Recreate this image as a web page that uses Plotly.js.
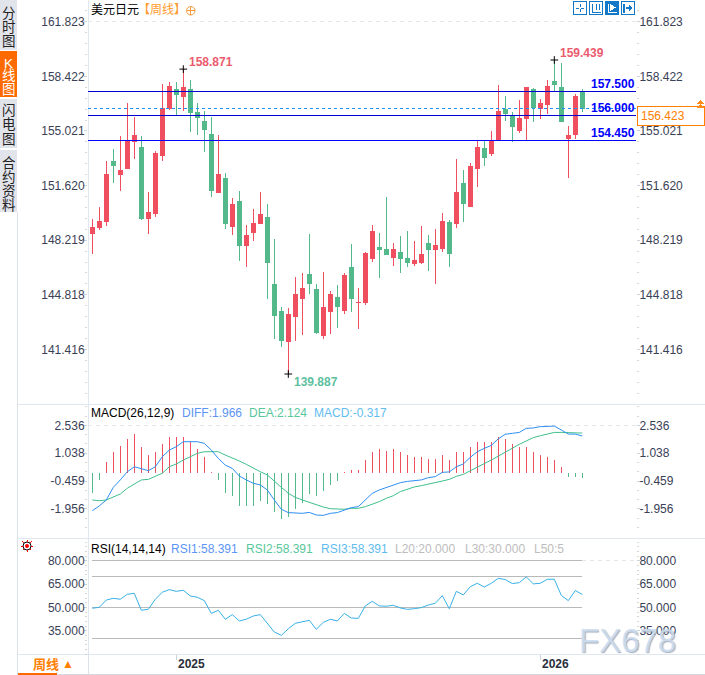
<!DOCTYPE html>
<html><head><meta charset="utf-8">
<script src="https://cdn.plot.ly/plotly-3.0.1.min.js"></script>
<style>html,body{margin:0;padding:0;background:#fff}#c{width:705px;height:675px}.boxlayer path{shape-rendering:crispEdges}</style></head>
<body><div id="c"></div>
<script>
// Weekly USD/JPY, values
const open  = [148.62,149.00,149.37,153.09,152.28,152.71,154.35,154.02,149.54,149.91,153.52,156.39,157.63,157.14,157.63,156.20,155.64,154.77,151.22,152.09,149.10,150.60,147.86,148.67,149.23,149.66,145.43,143.81,141.94,143.44,144.56,146.11,145.18,142.31,143.81,144.68,143.87,146.55,144.31,144.37,147.05,147.79,147.61,147.17,147.48,147.05,146.74,146.86,148.04,147.67,147.73,149.35,149.29,151.78,150.29,152.71,153.90,153.59,154.46,156.33,155.95,155.08,155.77,157.63,156.45,156.64,158.07,157.70,154.58,154.77,157.45];
const high  = [149.54,150.29,153.15,153.90,154.71,156.76,155.89,154.71,151.22,153.77,157.94,158.07,158.07,158.871,158.19,156.76,156.26,155.89,154.77,152.40,150.85,151.28,149.16,150.16,151.22,150.47,148.29,144.06,144.00,145.93,146.18,148.60,145.49,146.24,145.05,145.43,146.18,147.98,145.24,147.48,149.16,148.67,150.91,148.04,148.48,148.79,148.17,149.10,148.54,148.92,149.91,149.48,153.27,152.59,153.03,154.46,154.46,155.02,157.88,157.20,156.20,156.95,157.76,157.70,157.01,158.19,159.439,159.25,155.33,157.32,157.63];
const low   = [147.38,148.85,149.12,151.78,151.28,152.65,153.27,149.48,148.60,149.66,153.15,156.33,155.95,156.26,154.96,154.77,153.71,150.91,151.16,148.92,148.54,146.92,146.55,148.17,149.23,144.56,142.07,141.57,139.887,141.94,142.31,144.87,142.38,142.07,142.38,142.75,143.62,143.75,142.69,144.18,146.86,145.86,147.30,146.61,146.18,146.55,146.61,146.74,146.30,145.49,147.48,146.55,148.98,149.35,150.29,151.53,152.84,153.46,154.46,155.64,154.33,154.89,154.46,155.58,155.77,156.08,157.51,155.58,152.09,154.52,156.20];
const close = [149.04,149.41,152.28,152.90,152.53,154.40,154.71,149.60,149.97,153.59,156.39,157.82,157.26,157.70,156.20,155.89,155.14,151.34,152.28,149.23,150.47,147.92,148.54,149.23,149.79,146.80,143.50,142.00,143.62,144.81,145.24,145.55,142.50,144.00,144.81,144.06,146.05,144.62,144.37,147.36,148.73,147.61,147.30,147.67,147.11,146.86,146.98,147.30,147.61,147.92,149.41,147.36,151.22,150.53,152.78,154.02,153.34,154.40,156.26,156.08,155.27,155.77,157.70,156.51,156.76,157.82,157.94,155.58,154.71,157.14,156.423];
const macdHist = [-1.13,-0.38,0.54,1.13,1.45,1.83,2.05,1.40,0.97,1.13,1.56,1.92,1.94,1.94,1.62,1.24,0.86,0.05,-0.43,-1.08,-1.29,-1.78,-1.83,-1.78,-1.51,-1.67,-2.15,-2.48,-2.42,-1.99,-1.62,-1.18,-1.24,-1.02,-0.65,-0.48,0.02,0.11,0.16,0.65,1.13,1.24,1.18,1.24,1.13,0.97,0.86,0.81,0.75,0.75,0.92,0.70,1.08,1.13,1.40,1.67,1.62,1.67,1.89,1.78,1.51,1.35,1.35,1.13,0.92,0.81,0.70,0.27,-0.25,-0.25,-0.317];
const diff = [-2.06,-1.80,-1.48,-0.80,-0.40,0.04,0.31,0.19,0.10,0.31,0.85,1.21,1.39,1.66,1.66,1.66,1.57,1.21,0.76,0.40,0.22,-0.19,-0.40,-0.58,-0.67,-0.94,-1.48,-1.98,-2.16,-2.20,-2.20,-2.15,-2.29,-2.31,-2.20,-2.16,-2.02,-1.89,-1.84,-1.48,-1.12,-0.94,-0.80,-0.66,-0.55,-0.48,-0.42,-0.40,-0.28,-0.22,0.01,0.03,0.31,0.46,0.82,1.12,1.30,1.46,1.82,2.06,2.11,2.16,2.38,2.40,2.47,2.50,2.50,2.29,2.07,2.07,1.966];
const dea = [-1.48,-1.52,-1.48,-1.34,-1.16,-0.85,-0.62,-0.40,-0.37,-0.22,-0.04,0.31,0.46,0.67,0.85,1.03,1.12,1.14,1.12,0.94,0.80,0.62,0.44,0.22,0.04,-0.13,-0.49,-0.80,-1.12,-1.34,-1.48,-1.62,-1.75,-1.86,-1.95,-1.98,-1.98,-1.93,-1.93,-1.84,-1.71,-1.57,-1.39,-1.25,-1.03,-0.91,-0.78,-0.71,-0.64,-0.55,-0.46,-0.37,-0.21,-0.10,0.08,0.26,0.48,0.67,0.89,1.12,1.34,1.52,1.70,1.88,1.98,2.07,2.16,2.16,2.15,2.11,2.124];
const rsi = [49.5,50.1,54.8,55.9,55.3,58.5,59.1,48.2,48.8,55.3,59.8,61.5,60.4,61.1,57.4,56.6,54.4,46.2,48.2,42.4,45.4,41.3,42.4,44.5,45.4,39.4,34.2,32.0,36.3,39.8,40.6,41.7,35.9,40.4,42.4,41.3,46.2,43.2,43.0,51.0,54.0,51.0,50.8,51.4,49.7,48.8,49.2,49.9,51.6,52.7,57.6,49.2,60.4,58.1,63.4,65.6,63.2,65.6,68.8,68.0,65.4,66.0,69.7,65.2,65.6,68.2,68.2,57.8,54.4,60.9,58.391];
const priceTicks = [161.823,158.422,155.021,151.620,148.219,144.818,141.416];
const macdTicks  = [2.536,1.038,-0.459,-1.956];
const rsiTicks   = [80,65,50,35];
const rsiLevels  = [80,70,50,30,20];
const hLines     = [157.5,156.0,154.45];
const lastPrice  = 156.423;
const yearTicks  = [12,64];
const yearLabels = ['2025','2026'];
const peaks = [[13,158.871,'#EB5B6E'],[28,139.887,'#5DBFA0'],[66,159.439,'#EB5B6E']];
const idx = open.map((_,i)=>i);

const RED='#EF4F5F', GREEN='#53B88A', TXT='#3A4156', GRID='#E1E7EE';
const FONT='"Liberation Sans","Noto Sans CJK SC",sans-serif';
const px=x=>x/705, py=y=>1-y/675;
const dom=(t,b)=>[py(b),py(t)];

const baseY=(tv,minorD,minor0,extra)=>Object.assign({
  tickmode:'array',tickvals:tv,ticktext:tv.map(v=>v.toFixed(3)),
  tickfont:{family:FONT,size:12,color:TXT},showgrid:false,zeroline:false,
  ticks:'outside',ticklen:3,tickcolor:'#C9D3DE',tickwidth:1,ticklabelstandoff:-3,
  minor:{ticks:'outside',ticklen:2,tickcolor:'#D6D6D6',tickwidth:1,tickmode:'linear',tick0:minor0,dtick:minorD,showgrid:false},
  fixedrange:true},extra);

const traces=[
 {type:'candlestick',x:idx,open:open,high:high,low:low,close:close,xaxis:'x',yaxis:'y',
  increasing:{line:{color:RED,width:1},fillcolor:RED},decreasing:{line:{color:GREEN,width:1},fillcolor:GREEN},
  whiskerwidth:0,hoverinfo:'skip',showlegend:false},
 {type:'scatter',mode:'markers',x:peaks.map(p=>p[0]),y:peaks.map(p=>p[1]),xaxis:'x',yaxis:'y',
  marker:{symbol:'cross-thin',size:5.5,line:{color:'#000',width:1}},hoverinfo:'skip',showlegend:false},
 {type:'bar',x:idx,y:macdHist,xaxis:'x',yaxis:'y2',width:0.15,marker:{color:macdHist.map(v=>v>=0?RED:GREEN),line:{width:0}},hoverinfo:'skip',showlegend:false},
 {type:'scatter',mode:'lines',x:idx,y:dea,xaxis:'x',yaxis:'y2',line:{color:'#3FBF8C',width:1},hoverinfo:'skip',showlegend:false},
 {type:'scatter',mode:'lines',x:idx,y:diff,xaxis:'x',yaxis:'y2',line:{color:'#2E8FF2',width:1},hoverinfo:'skip',showlegend:false},
 {type:'scatter',mode:'lines',x:idx,y:rsi,xaxis:'x',yaxis:'y3',line:{color:'#38B0E6',width:1},hoverinfo:'skip',showlegend:false},
 // carriers for the right-hand axes
 {type:'scatter',mode:'markers',x:[0],y:[priceTicks[0]],xaxis:'x',yaxis:'y4',opacity:0,hoverinfo:'skip',showlegend:false},
 {type:'scatter',mode:'markers',x:[0],y:[macdTicks[0]],xaxis:'x',yaxis:'y5',opacity:0,hoverinfo:'skip',showlegend:false},
 {type:'scatter',mode:'markers',x:[0],y:[rsiTicks[0]],xaxis:'x',yaxis:'y6',opacity:0,hoverinfo:'skip',showlegend:false}
];

const shapes=[];
const rect=(x0,y0,x1,y1,fill,line,w,layer)=>shapes.push({type:'rect',xref:'paper',yref:'paper',x0:px(x0),x1:px(x1),y0:py(y0),y1:py(y1),fillcolor:fill||'rgba(0,0,0,0)',line:{color:line||'rgba(0,0,0,0)',width:w===undefined?(line?1:0):w},layer:layer||'below'});
const seg=(x0,y0,x1,y1,c,w,dash,layer)=>shapes.push({type:'line',xref:'paper',yref:'paper',x0:px(x0),x1:px(x1),y0:py(y0),y1:py(y1),line:{color:c,width:w||1,dash:dash||'solid'},layer:layer||'below'});

// side tabs
rect(0,0,17,50,'#E2E4EC'); rect(0,51,17,97,'#FF6A00'); rect(0,99,17,148,'#E2E4EC'); rect(0,150,17,212,'#E2E4EC');
seg(17.5,212,17.5,675,'#DDE1E8');
// panel frame
seg(88.5,0,88.5,654,GRID);
seg(18,404.5,705,404.5,GRID); seg(18,538.5,705,538.5,GRID); seg(18,654.5,705,654.5,GRID); seg(18,674.5,705,674.5,'#D5D9E0');
seg(88.5,654,88.5,674,'#DDE1E8');
seg(18,674,57,674,'#FF6A00',2);
// horizontal price levels
hLines.forEach((v,i)=>shapes.push({type:'line',xref:'paper',yref:'y',x0:px(88),x1:px(636),y0:v,y1:v,line:{color:i==2?'#0000FF':'#0000D0',width:1},layer:'above'}));
shapes.push({type:'line',xref:'paper',yref:'y',x0:px(88),x1:px(636),y0:lastPrice,y1:lastPrice,line:{color:'#1E90FF',width:1,dash:'3px,3px'},layer:'above'});
shapes.push({type:'line',xref:'paper',yref:'y',x0:px(88),x1:px(636),y0:priceTicks[0],y1:priceTicks[0],line:{color:'#E6E6E6',width:1,dash:'4px,4px'},layer:'below'});
shapes.push({type:'line',xref:'paper',yref:'y2',x0:px(88),x1:px(636),y0:macdTicks[0],y1:macdTicks[0],line:{color:'#E6E6E6',width:1,dash:'4px,4px'},layer:'below'});
shapes.push({type:'line',xref:'paper',yref:'y3',x0:px(582),x1:px(636),y0:rsiLevels[0],y1:rsiLevels[0],line:{color:'#E6E6E6',width:1,dash:'4px,4px'},layer:'below'});
rsiLevels.forEach(v=>shapes.push({type:'line',xref:'paper',yref:'y3',x0:px(92),x1:px(582),y0:v,y1:v,line:{color:'#B9B9B9',width:1},layer:'below'}));
// last-price box and marker
rect(637.5,106.5,704.5,125.5,'#FFFFFF','#FF8000',1,'above');
const tri=(x,y,w,h,c)=>shapes.push({type:'path',xref:'paper',yref:'paper',path:`M ${px(x-w/2)} ${py(y+h)} L ${px(x)} ${py(y)} L ${px(x+w/2)} ${py(y+h)} Z`,fillcolor:c,line:{width:0},layer:'above'});
tri(700,100,8,4,'#FF8C1A'); tri(700,104,8,4,'#FF8C1A');
// header toolbar
const B='#1478C8';
rect(573.5,1.5,586.5,14.5,'#FFF',B,1); seg(580,4,580,7,B,1,'solid','above'); seg(580,9,580,12,B,1,'solid','above'); seg(576,8,579,8,B,1,'solid','above'); seg(581,8,584,8,B,1,'solid','above');
rect(589.5,1.5,602.5,14.5,'#FFF',B,1); seg(592,3.5,592,12,B,1,'solid','above'); seg(592,12,601,12,B,1,'solid','above'); seg(596,4,596,10,B,1,'solid','above'); seg(599,4,599,10,B,1,'solid','above');
rect(605.5,1.5,618.5,14.5,B,B,1); seg(608,3.5,608,12,'#FFF',1,'solid','above'); seg(608,12,617,12,'#FFF',1,'solid','above'); tri(612.5,4,0.1,0.1,'#FFF');
shapes.push({type:'path',xref:'paper',yref:'paper',path:`M ${px(610)} ${py(4)} L ${px(616)} ${py(7.5)} L ${px(610)} ${py(11)} Z`,fillcolor:'#FFF',line:{width:0},layer:'above'});
rect(621.5,1.5,634.5,14.5,'#FFF',B,1); seg(624,3.5,624,12.5,B,2,'solid','above'); seg(626,8,630,8,B,2,'solid','above');
shapes.push({type:'path',xref:'paper',yref:'paper',path:`M ${px(629)} ${py(4.5)} L ${px(633)} ${py(8)} L ${px(629)} ${py(11.5)} Z`,fillcolor:B,line:{width:0},layer:'above'});
// header circle-plus
shapes.push({type:'circle',xref:'paper',yref:'paper',x0:px(186.5),x1:px(195),y0:py(15),y1:py(6.5),line:{color:'#F49A3A',width:1},fillcolor:'rgba(0,0,0,0)'});
seg(186.5,10.5,195,10.5,'#F49A3A',1,'solid','above'); seg(190.5,6.5,190.5,15,'#F49A3A',1,'solid','above');
// sun icon
shapes.push({type:'circle',xref:'paper',yref:'paper',x0:px(23),x1:px(31),y0:py(550),y1:py(542),line:{color:'#000',width:1},fillcolor:'#FFFFFF'});
shapes.push({type:'circle',xref:'paper',yref:'paper',x0:px(25),x1:px(29),y0:py(548),y1:py(544),line:{width:0},fillcolor:'#FF0000'});
[[21,546,23,546],[31,546,33,546],[27,540,27,542],[27,550,27,552],[22.5,541.5,24,543],[30,549,31.5,550.5],[31.5,541.5,30,543],[24,549,22.5,550.5]].forEach(s=>seg(s[0],s[1],s[2],s[3],'#FF0000',1,'solid','above'));

const ann=[];
const text=(x,y,t,color,size,anchor,extra)=>ann.push(Object.assign({xref:'paper',yref:'paper',x:px(x),y:py(y),text:t,showarrow:false,xanchor:anchor||'left',yanchor:'middle',font:{family:FONT,size:size||12,color:color||'#000'},borderpad:0},extra||{}));
// side tab labels
[['分',13],['时',27],['图',41],['K',63],['线',76],['图',90],['闪',111],['电',125],['图',139],['合',163],['约',177],['资',191],['料',205]]
 .forEach(([c,y],i)=>text(8.5,y,c,(i>=3&&i<=5)?'#FFFFFF':'#222222',13.5,'center'));
// header
text(90,10,'美元日元','#000',12);
text(137,10,'【周线】','#FF9A2E',12);
// price-level labels
hLines.forEach(v=>ann.push({xref:'paper',yref:'y',x:px(636),y:v,text:'<b>'+v.toFixed(3)+'</b>',showarrow:false,xanchor:'right',yanchor:'bottom',yshift:-1,font:{family:FONT,size:12,color:'#0000FF'},borderpad:0}));
text(640,116,lastPrice.toFixed(3),'#FF8000',12);
// extremes
peaks.forEach(([i,v,c])=>ann.push({xref:'x',yref:'y',x:i,y:v,text:'<b>'+v.toFixed(3)+'</b>',showarrow:false,xanchor:'left',xshift:5,yanchor:'middle',yshift:i==28?-8:7,font:{family:FONT,size:12,color:c},borderpad:0}));
// MACD legend
text(90,413,'MACD(26,12,9)','#000',12);
text(181,413,'DIFF:'+diff[70].toFixed(3),'#5B95F5',12);
text(248,413,'DEA:'+dea[70].toFixed(3),'#58C79B',12);
text(313,413,'MACD:'+macdHist[70].toFixed(3),'#5FBCEF',12);
// RSI legend
text(90,549,'RSI(14,14,14)','#000',12);
text(170,549,'RSI1:'+rsi[70].toFixed(3),'#5B95F5',12);
text(245,549,'RSI2:'+rsi[70].toFixed(3),'#58C79B',12);
text(320,549,'RSI3:'+rsi[70].toFixed(3),'#5FBCEF',12);
text(394,549,'L20:20.000','#BDBDBD',12);
text(464,549,'L30:30.000','#BDBDBD',12);
text(533,549,'L50:5','#BDBDBD',12);
// bottom tab
text(32,664,'<b>周线</b>','#FF8000',13);
text(61,664,'▲','#FF8000',12);
// watermark
text(627,640,'FX678','rgba(205,222,240,0.88)',33,'center',{});
ann[ann.length-1].font.shadow='1px 1px 1px rgba(110,125,150,0.7)';

const layout={
 width:705,height:675,margin:{l:0,r:0,t:0,b:0},paper_bgcolor:'#fff',plot_bgcolor:'rgba(0,0,0,0)',
 showlegend:false,boxgap:0.2,bargap:0,font:{family:FONT},
 xaxis:{domain:[px(88),px(636)],range:[-0.614,77.67],anchor:'y3',rangeslider:{visible:false},
   tickmode:'array',tickvals:yearTicks,ticktext:yearLabels.map(t=>'<b>'+t+'</b>'),ticks:'outside',ticklen:5,tickcolor:'#C9D3DE',
   tickfont:{family:FONT,size:12,color:'#2A2F3A'},ticklabelshift:15,ticklabelstandoff:-6,showgrid:false,zeroline:false,showline:false,fixedrange:true},
 yaxis: baseY(priceTicks,0.6802,141.416,{domain:dom(10,404),range:[138.02,162.552],side:'left',anchor:'x'}),
 yaxis2:baseY(macdTicks,0.4992,-1.956,{domain:dom(405,535),range:[-3.367,3.637],side:'left',anchor:'x'}),
 yaxis3:baseY(rsiTicks,3,35,{domain:dom(540,654),range:[20,93.5],side:'left',anchor:'x'}),
 yaxis4:baseY(priceTicks,0.6802,141.416,{overlaying:'y',range:[138.02,162.552],side:'right',anchor:'x'}),
 yaxis5:baseY(macdTicks,0.4992,-1.956,{overlaying:'y2',range:[-3.367,3.637],side:'right',anchor:'x'}),
 yaxis6:baseY(rsiTicks,3,35,{overlaying:'y3',range:[20,93.5],side:'right',anchor:'x'}),
 shapes:shapes,annotations:ann
};
Plotly.newPlot('c',traces,layout,{displayModeBar:false,staticPlot:true}).then(()=>{
  document.querySelectorAll('.shapelayer path').forEach(p=>{ if(!(p.getAttribute('d')||'').includes('A')) p.style.shapeRendering='crispEdges'; });
});
</script></body></html>
